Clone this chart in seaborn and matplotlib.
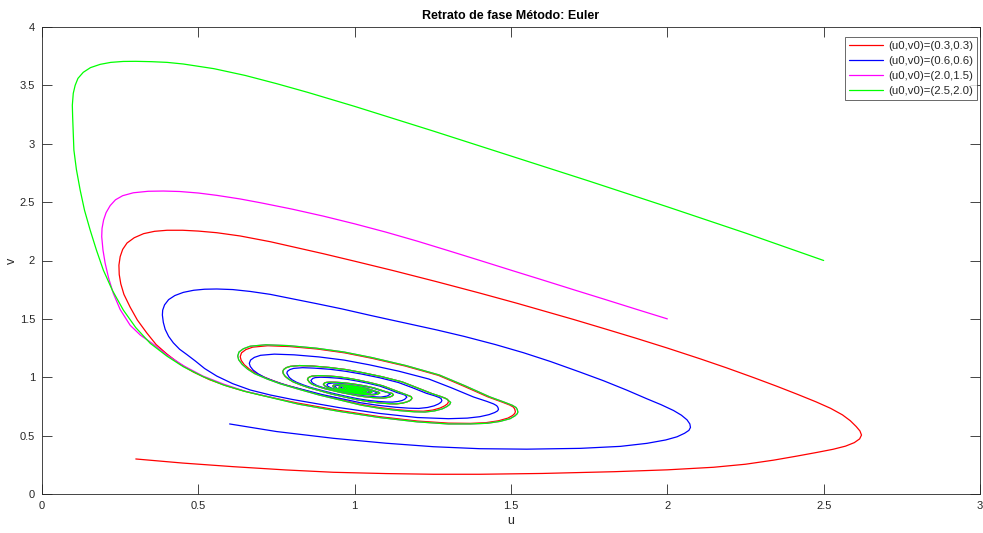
import matplotlib
matplotlib.use("Agg")
import matplotlib.pyplot as plt
import pandas as pd
import seaborn as sns

# ---------------- data (u, v) ----------------
labels = ["(u0,v0)=(0.3,0.3)", "(u0,v0)=(0.6,0.6)", "(u0,v0)=(2.0,1.5)", "(u0,v0)=(2.5,2.0)"]
colors = ["#FF0000", "#0000FF", "#FF00FF", "#00FF00"]

red_head = [(0.30, 0.30), (0.45, 0.265), (0.612, 0.234), (0.78, 0.206), (0.932, 0.186), (1.10, 0.175),
            (1.252, 0.169), (1.40, 0.169), (1.60, 0.176), (1.83, 0.191), (2.00, 0.207), (2.148, 0.229),
            (2.25, 0.255), (2.34, 0.29), (2.415, 0.325), (2.48, 0.357), (2.53, 0.383), (2.57, 0.41),
            (2.598, 0.44), (2.615, 0.472), (2.621, 0.505), (2.616, 0.54), (2.604, 0.578), (2.585, 0.628),
            (2.56, 0.678), (2.522, 0.734), (2.475, 0.79), (2.415, 0.855), (2.35, 0.923), (2.276, 0.997),
            (2.19, 1.080), (2.106, 1.157), (2.00, 1.250), (1.90, 1.334), (1.80, 1.415), (1.70, 1.495),
            (1.626, 1.552), (1.52, 1.633), (1.40, 1.721), (1.26, 1.820), (1.124, 1.913), (1.00, 1.994),
            (0.90, 2.058), (0.80, 2.119), (0.73, 2.161), (0.634, 2.21), (0.559, 2.238),
            (0.50, 2.252), (0.45, 2.259), (0.40, 2.259), (0.36, 2.25), (0.325, 2.23), (0.295, 2.195),
            (0.272, 2.15), (0.258, 2.095), (0.25, 2.033), (0.246, 1.96), (0.247, 1.88), (0.252, 1.80),
            (0.262, 1.71), (0.282, 1.60), (0.305, 1.49), (0.335, 1.38), (0.365, 1.28), (0.399, 1.20),
            (0.44, 1.115), (0.484, 1.045), (0.535, 0.98), (0.591, 0.925), (0.645, 0.882), (0.70, 0.847),
            (0.815, 0.780), (0.95, 0.716), (1.08, 0.662), (1.20, 0.625), (1.30, 0.607), (1.37, 0.605),
            (1.42, 0.611), (1.46, 0.627), (1.49, 0.65), (1.505, 0.672), (1.512, 0.69), (1.514, 0.705)]

red_loop = [(1.512, 0.726), (1.508, 0.744), (1.496, 0.762), (1.473, 0.786), (1.426, 0.832), (1.347, 0.926),
            (1.268, 1.016), (1.162, 1.096), (1.056, 1.162), (0.968, 1.209), (0.880, 1.242), (0.792, 1.263),
            (0.722, 1.270), (0.674, 1.258), (0.652, 1.237), (0.638, 1.209), (0.634, 1.176),
            (0.637, 1.145), (0.647, 1.107), (0.664, 1.068), (0.687, 1.029), (0.727, 0.983), (0.767, 0.944),
            (0.827, 0.898), (0.887, 0.852), (0.954, 0.809), (1.020, 0.767), (1.080, 0.740), (1.140, 0.721),
            (1.187, 0.711), (1.220, 0.709), (1.250, 0.719), (1.273, 0.736), (1.288, 0.755), (1.297, 0.773),
            (1.300, 0.790)]

green_head = [(2.50, 2.00), (2.25, 2.235), (2.00, 2.46), (1.75, 2.68), (1.50, 2.895), (1.25, 3.11),
              (1.00, 3.32), (0.85, 3.44), (0.75, 3.515), (0.65, 3.585), (0.55, 3.643), (0.452, 3.683),
              (0.40, 3.697), (0.35, 3.703), (0.30, 3.706), (0.26, 3.705), (0.22, 3.697), (0.186, 3.680),
              (0.155, 3.652), (0.132, 3.612), (0.115, 3.56), (0.106, 3.50), (0.100, 3.432), (0.097, 3.33),
              (0.098, 3.232), (0.100, 3.10), (0.102, 2.946), (0.110, 2.78), (0.122, 2.604), (0.136, 2.43),
              (0.154, 2.261), (0.174, 2.09), (0.196, 1.919), (0.225, 1.745), (0.26, 1.576), (0.30, 1.425),
              (0.346, 1.291), (0.40, 1.18), (0.452, 1.09), (0.515, 1.005), (0.58, 0.934), (0.65, 0.878),
              (0.719, 0.834)]

green_loop = [(0.82, 0.770), (0.95, 0.708), (1.08, 0.655), (1.20, 0.618), (1.30, 0.600), (1.37, 0.600),
              (1.425, 0.606), (1.465, 0.622), (1.497, 0.645), (1.513, 0.67), (1.52, 0.688), (1.522, 0.702),
              (1.520, 0.724), (1.516, 0.741), (1.504, 0.760), (1.480, 0.785), (1.432, 0.832), (1.352, 0.928),
              (1.271, 1.019), (1.164, 1.100), (1.056, 1.168), (0.966, 1.216), (0.877, 1.249), (0.787, 1.271),
              (0.716, 1.278), (0.666, 1.266), (0.644, 1.244), (0.630, 1.216), (0.626, 1.182),
              (0.629, 1.150), (0.640, 1.111), (0.657, 1.071), (0.680, 1.031), (0.721, 0.984), (0.762, 0.944),
              (0.823, 0.896), (0.885, 0.849), (0.953, 0.805), (1.021, 0.761), (1.082, 0.733), (1.144, 0.714),
              (1.191, 0.704), (1.225, 0.702), (1.256, 0.712), (1.280, 0.729), (1.295, 0.749), (1.304, 0.767),
              (1.307, 0.785)]

magenta_head = [(2.00, 1.50), (1.90, 1.583), (1.80, 1.667), (1.70, 1.750), (1.60, 1.834), (1.50, 1.917),
                (1.40, 2.001), (1.30, 2.084), (1.20, 2.166), (1.10, 2.243), (1.00, 2.314), (0.90, 2.380),
                (0.80, 2.440), (0.70, 2.494), (0.634, 2.527), (0.559, 2.558), (0.50, 2.578), (0.44, 2.591),
                (0.388, 2.595), (0.34, 2.593), (0.292, 2.58), (0.258, 2.555), (0.235, 2.52), (0.218, 2.47),
                (0.205, 2.41), (0.197, 2.347), (0.192, 2.275), (0.191, 2.204), (0.195, 2.09), (0.202, 1.976),
                (0.213, 1.85), (0.228, 1.719), (0.25, 1.58), (0.282, 1.445), (0.315, 1.36), (0.35, 1.295),
                (0.40, 1.19), (0.455, 1.095), (0.515, 1.01), (0.582, 0.94), (0.65, 0.88), (0.72, 0.836)]

spiral_rg = [(1.299, 0.802), (1.296, 0.811), (1.289, 0.821), (1.275, 0.835), (1.247, 0.860), (1.199, 0.911),
             (1.152, 0.960), (1.088, 1.004), (1.024, 1.040), (0.971, 1.066), (0.918, 1.084), (0.865, 1.096),
             (0.823, 1.100), (0.794, 1.093), (0.781, 1.082), (0.773, 1.066), (0.770, 1.048),
             (0.772, 1.030), (0.778, 1.007), (0.789, 0.984), (0.803, 0.961), (0.828, 0.934), (0.853, 0.911),
             (0.890, 0.884), (0.927, 0.856), (0.968, 0.831), (1.010, 0.806), (1.047, 0.790), (1.084, 0.779),
             (1.113, 0.773), (1.133, 0.772), (1.152, 0.778), (1.166, 0.788), (1.176, 0.799), (1.181, 0.810),
             (1.183, 0.820),
             (1.181, 0.833), (1.176, 0.839), (1.167, 0.848), (1.150, 0.864), (1.120, 0.896), (1.089, 0.927),
             (1.049, 0.954), (1.009, 0.977), (0.976, 0.993), (0.943, 1.005), (0.909, 1.012), (0.882, 1.014),
             (0.864, 1.010), (0.856, 1.003), (0.851, 0.993), (0.849, 0.982),
             (0.855, 0.958), (0.861, 0.945), (0.871, 0.932), (0.888, 0.916), (0.904, 0.903), (0.929, 0.887),
             (0.954, 0.871), (0.981, 0.857), (1.009, 0.842), (1.033, 0.833), (1.058, 0.826), (1.077, 0.823),
             (1.091, 0.822), (1.103, 0.826), (1.113, 0.832), (1.119, 0.838), (1.124, 0.850),
             (1.120, 0.861), (1.113, 0.866), (1.102, 0.874), (1.081, 0.892), (1.061, 0.909), (1.034, 0.925),
             (1.008, 0.937), (0.985, 0.946), (0.963, 0.953), (0.940, 0.957), (0.922, 0.958), (0.910, 0.956),
             (0.904, 0.952), (0.900, 0.940),
             (0.904, 0.927), (0.914, 0.912), (0.925, 0.903), (0.936, 0.895), (0.952, 0.886), (0.968, 0.877),
             (0.986, 0.869), (1.004, 0.861), (1.021, 0.855), (1.037, 0.852), (1.058, 0.849), (1.073, 0.855),
             (1.080, 0.865),
             (1.077, 0.872), (1.065, 0.881), (1.052, 0.893), (1.038, 0.905), (1.020, 0.915), (1.002, 0.923),
             (0.987, 0.929), (0.972, 0.933), (0.957, 0.936), (0.945, 0.937), (0.933, 0.933), (0.930, 0.925),
             (0.933, 0.915), (0.940, 0.905), (0.955, 0.893), (0.978, 0.880), (1.003, 0.869), (1.025, 0.862),
             (1.040, 0.861), (1.050, 0.865), (1.055, 0.872),
             (1.053, 0.877), (1.045, 0.884), (1.026, 0.900), (1.000, 0.914), (0.979, 0.921), (0.961, 0.924),
             (0.952, 0.921), (0.950, 0.915),
             (0.952, 0.908), (0.957, 0.901), (0.968, 0.892), (0.983, 0.883), (1.001, 0.875), (1.017, 0.870),
             (1.027, 0.869), (1.034, 0.872), (1.038, 0.877),
             (1.031, 0.885), (1.017, 0.897), (1.000, 0.907), (0.985, 0.912), (0.971, 0.914), (0.964, 0.908),
             (0.969, 0.898), (0.977, 0.892), (0.988, 0.885), (1.001, 0.879), (1.012, 0.876), (1.024, 0.877),
             (1.027, 0.881),
             (1.022, 0.887), (1.012, 0.896), (1.000, 0.902), (0.989, 0.906), (0.979, 0.907), (0.974, 0.903),
             (0.978, 0.895), (0.990, 0.888), (1.003, 0.884), (1.018, 0.886), (1.014, 0.893), (1.000, 0.899),
             (0.985, 0.899), (0.984, 0.893), (0.995, 0.889), (1.008, 0.889), (1.006, 0.895), (0.995, 0.896),
             (0.993, 0.892), (1.000, 0.892)]

blue_head = [(0.60, 0.60), (0.75, 0.535), (0.932, 0.477), (1.10, 0.435), (1.252, 0.405), (1.40, 0.388),
             (1.55, 0.384), (1.722, 0.391), (1.85, 0.408), (1.935, 0.434), (1.995, 0.463), (2.031, 0.49),
             (2.055, 0.52), (2.069, 0.545), (2.074, 0.57), (2.072, 0.60), (2.063, 0.635), (2.045, 0.675),
             (2.02, 0.715), (1.98, 0.765), (1.935, 0.815), (1.87, 0.89), (1.796, 0.97), (1.72, 1.045),
             (1.626, 1.135), (1.54, 1.21), (1.45, 1.28), (1.35, 1.35), (1.263, 1.405), (1.16, 1.465),
             (1.05, 1.53), (0.96, 1.585), (0.879, 1.63), (0.80, 1.672), (0.73, 1.71), (0.666, 1.735),
             (0.61, 1.751), (0.559, 1.756), (0.52, 1.754), (0.485, 1.745), (0.452, 1.727), (0.425, 1.70),
             (0.405, 1.665), (0.392, 1.62), (0.386, 1.575), (0.385, 1.533), (0.388, 1.47), (0.394, 1.41),
             (0.405, 1.35), (0.42, 1.295), (0.44, 1.24), (0.463, 1.195), (0.49, 1.14), (0.52, 1.075),
             (0.559, 1.01), (0.61, 0.945), (0.666, 0.891), (0.73, 0.848), (0.80, 0.81), (0.95, 0.74),
             (1.08, 0.69), (1.20, 0.655), (1.30, 0.645), (1.36, 0.65), (1.40, 0.662), (1.43, 0.68),
             (1.448, 0.698), (1.457, 0.712), (1.46, 0.725)]

blue_spiral = [(1.458, 0.743), (1.454, 0.757), (1.444, 0.772), (1.423, 0.793), (1.380, 0.831), (1.309, 0.910),
               (1.237, 0.985), (1.141, 1.052), (1.046, 1.107), (0.966, 1.147), (0.886, 1.174), (0.806, 1.192),
               (0.743, 1.198), (0.699, 1.188), (0.679, 1.170), (0.667, 1.147), (0.663, 1.119),
               (0.666, 1.093), (0.675, 1.062), (0.691, 1.030), (0.712, 0.998), (0.749, 0.960), (0.786, 0.928),
               (0.842, 0.889), (0.897, 0.851), (0.959, 0.816), (1.020, 0.781), (1.076, 0.759), (1.131, 0.743),
               (1.174, 0.735), (1.205, 0.733), (1.233, 0.741), (1.254, 0.755), (1.268, 0.771), (1.276, 0.786),
               (1.279, 0.800),
               (1.276, 0.819), (1.269, 0.828), (1.256, 0.841), (1.229, 0.863), (1.185, 0.910), (1.140, 0.955),
               (1.081, 0.995), (1.021, 1.028), (0.971, 1.051), (0.922, 1.068), (0.872, 1.078), (0.833, 1.082),
               (0.805, 1.076), (0.793, 1.066), (0.785, 1.051), (0.783, 1.035),
               (0.791, 0.998), (0.800, 0.978), (0.814, 0.957), (0.837, 0.933), (0.860, 0.912), (0.894, 0.887),
               (0.929, 0.863), (0.967, 0.840), (1.006, 0.818), (1.040, 0.803), (1.075, 0.793), (1.102, 0.788),
               (1.121, 0.787), (1.138, 0.792), (1.152, 0.801), (1.160, 0.811), (1.167, 0.830),
               (1.161, 0.847), (1.153, 0.855), (1.136, 0.868), (1.109, 0.897), (1.081, 0.924), (1.044, 0.948),
               (1.007, 0.968), (0.977, 0.982), (0.946, 0.992), (0.915, 0.998), (0.891, 1.000), (0.874, 0.997),
               (0.866, 0.990), (0.860, 0.972),
               (0.865, 0.951), (0.880, 0.928), (0.896, 0.914), (0.911, 0.902), (0.934, 0.888), (0.957, 0.874),
               (0.982, 0.861), (1.007, 0.848), (1.030, 0.840), (1.053, 0.834), (1.084, 0.830), (1.104, 0.839),
               (1.114, 0.855),
               (1.110, 0.865), (1.094, 0.877), (1.075, 0.893), (1.057, 0.908), (1.033, 0.921), (1.008, 0.933),
               (0.988, 0.941), (0.968, 0.946), (0.948, 0.950), (0.931, 0.951), (0.915, 0.945), (0.911, 0.935),
               (0.914, 0.923), (0.924, 0.909), (0.943, 0.894), (0.972, 0.878), (1.004, 0.863), (1.033, 0.855),
               (1.053, 0.853), (1.066, 0.857), (1.072, 0.867),
               (1.058, 0.882), (1.034, 0.903), (1.001, 0.919), (0.974, 0.929), (0.950, 0.932), (0.939, 0.928),
               (0.936, 0.921),
               (0.945, 0.903), (0.959, 0.892), (0.979, 0.881), (1.002, 0.870), (1.023, 0.864), (1.045, 0.866),
               (1.050, 0.873),
               (1.041, 0.884), (1.023, 0.899), (1.001, 0.911), (0.982, 0.917), (0.965, 0.920), (0.955, 0.912),
               (0.960, 0.900), (0.975, 0.890), (0.995, 0.880), (1.020, 0.875), (1.035, 0.879), (1.028, 0.889),
               (1.005, 0.902), (0.985, 0.907), (0.972, 0.903), (0.978, 0.894), (0.995, 0.886), (1.015, 0.884),
               (1.020, 0.890), (1.005, 0.897), (0.990, 0.898), (0.990, 0.892), (1.000, 0.889), (1.006, 0.893),
               (0.998, 0.895)]

x_ticks = [0, 0.5, 1, 1.5, 2, 2.5, 3]
x_tick_labels = ["0", "0.5", "1", "1.5", "2", "2.5", "3"]
y_ticks = [0, 0.5, 1, 1.5, 2, 2.5, 3, 3.5, 4]
y_tick_labels = ["0", "0.5", "1", "1.5", "2", "2.5", "3", "3.5", "4"]

trajectories = [
    red_head + red_loop + spiral_rg,
    blue_head + blue_spiral,
    magenta_head + green_loop + spiral_rg,
    green_head + green_loop + spiral_rg,
]

# ---------------- figure ----------------
sns.set_style("white")
plt.rcParams["font.family"] = ["Liberation Sans", "DejaVu Sans"]
plt.rcParams["xtick.bottom"] = True
plt.rcParams["ytick.left"] = True
axcol = "#262626"

fig = plt.figure(figsize=(9.83, 5.33), dpi=100)
ax = fig.add_axes([42 / 983, 39 / 533, 938 / 983, 467 / 533])

for pts, lab, col in zip(trajectories, labels, colors):
    df = pd.DataFrame(pts, columns=["u", "v"])
    sns.lineplot(data=df, x="u", y="v", sort=False, estimator=None, color=col,
                 linewidth=0.9, label=lab, ax=ax)

ax.set_xlim(0, 3)
ax.set_ylim(0, 4)
ax.set_xticks(x_ticks)
ax.set_xticklabels(x_tick_labels)
ax.set_yticks(y_ticks)
ax.set_yticklabels(y_tick_labels)
ax.xaxis.set_ticks_position("both")
ax.yaxis.set_ticks_position("both")
ax.tick_params(which="major", direction="in", length=7, width=0.6, color=axcol,
               labelcolor=axcol, labelsize=8, pad=5)
ax.tick_params(labeltop=False, labelright=False, labelbottom=True, labelleft=True)
for s in ax.spines.values():
    s.set_visible(True)
    s.set_color(axcol)
    s.set_linewidth(0.6)

ax.set_xlabel("u", fontsize=9, color=axcol, labelpad=3)
ax.set_ylabel("v", fontsize=9, color=axcol, labelpad=1)
ax.set_title("Retrato de fase Método: Euler", fontsize=9, fontweight="bold", color="black", pad=6)

leg = ax.legend(loc="upper right", bbox_to_anchor=(0.9968, 0.9786), borderaxespad=0,
                fontsize=8.2, frameon=True, fancybox=False, edgecolor=axcol,
                handlelength=3.0, handletextpad=0.45, labelspacing=0.45, borderpad=0.35)
leg.get_frame().set_linewidth(0.6)
for line in leg.get_lines():
    line.set_linewidth(0.9)

fig.savefig("out.png", dpi=100)
